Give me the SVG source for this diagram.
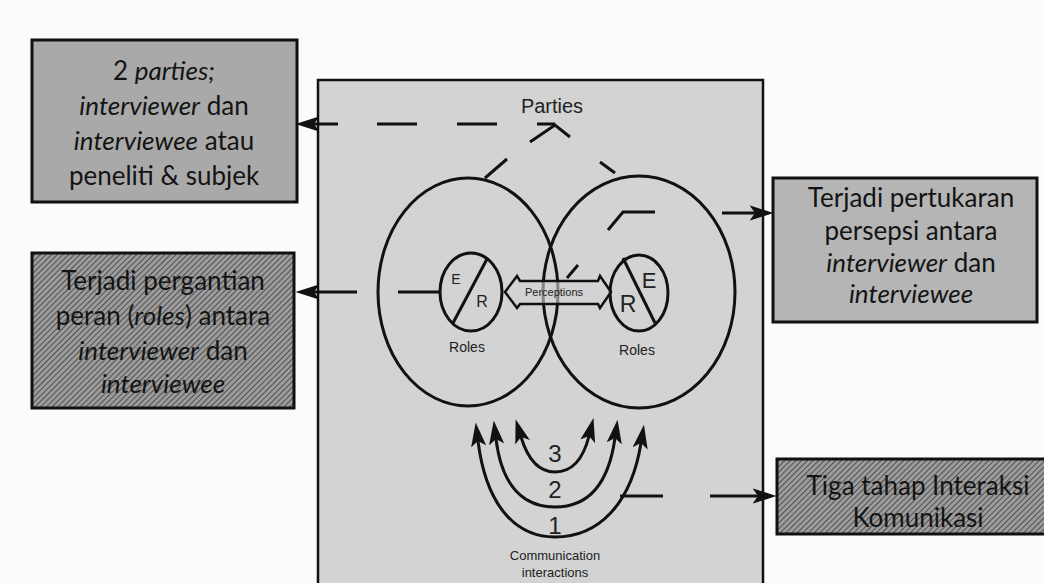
<svg xmlns="http://www.w3.org/2000/svg" width="1044" height="583" viewBox="0 0 1044 583">
<defs>
  <pattern id="hatch" width="4" height="4" patternUnits="userSpaceOnUse" patternTransform="rotate(45)">
    <rect width="4" height="4" fill="#9c9c9c"/>
    <line x1="0" y1="0" x2="0" y2="4" stroke="#505050" stroke-width="2"/>
  </pattern>
  <marker id="ah" markerUnits="userSpaceOnUse" markerWidth="24" markerHeight="16" viewBox="0 0 22 14" refX="5" refY="7" orient="auto-start-reverse">
    <path d="M0,0 L22,7 L0,14 L5,7 z" fill="#111"/>
  </marker>
  <style>
    .box { stroke:#111; stroke-width:3; }
    .lt { fill:#a9a9a9; }
    .lt2 { fill:#b5b5b5; }
    .dk { fill:url(#hatch); }
    .bt { font-family:Lato, "Liberation Sans", sans-serif; font-size:26px; fill:#141414; text-anchor:middle; }
    .it { font-style:italic; }
    .ln { fill:none; stroke:#111; stroke-width:3; stroke-linecap:butt; }
    .sl { font-family:"Liberation Sans", Arial, sans-serif; fill:#222; text-anchor:middle; }
  </style>
</defs>
<rect width="1044" height="583" fill="#fbfbfb"/>

<g id="main-panel">
  <rect x="318" y="80" width="445" height="520" fill="#d3d3d3" stroke="#111" stroke-width="2.5"/>
  <text class="sl" x="552" y="113" font-size="20">Parties</text>
  <ellipse cx="468" cy="292" rx="90" ry="114" fill="none" stroke="#111" stroke-width="3"/>
  <ellipse cx="639" cy="292" rx="96" ry="116" fill="none" stroke="#111" stroke-width="3"/>
</g>

<g id="roles-left">
  <ellipse cx="471" cy="292" rx="31" ry="39" fill="none" stroke="#111" stroke-width="3"/>
  <line x1="487" y1="259" x2="453" y2="323" stroke="#111" stroke-width="3"/>
  <text class="sl" x="456" y="284" font-size="14">E</text>
  <text class="sl" x="482" y="307" font-size="16">R</text>
  <text class="sl" x="467" y="352" font-size="14">Roles</text>
</g>

<g id="roles-right">
  <ellipse cx="639" cy="293" rx="29" ry="38" fill="none" stroke="#111" stroke-width="3"/>
  <line x1="623" y1="258" x2="655" y2="323" stroke="#111" stroke-width="3"/>
  <text class="sl" x="649" y="288" font-size="22">E</text>
  <text class="sl" x="628" y="312" font-size="23">R</text>
  <text class="sl" x="637" y="355" font-size="14">Roles</text>
</g>

<g id="perceptions">
  <path d="M505,292 L517,276 L520,281 L598,281 L600,276 L611,292 L600,308 L598,304 L520,304 L517,308 z" fill="#d3d3d3" fill-opacity="0.6" stroke="#111" stroke-width="2.5" stroke-linejoin="miter"/>
  <text class="sl" x="554" y="296" font-size="11">Perceptions</text>
</g>

<g id="interactions">
  <path class="ln" d="M478,441 C486,505 515,537 555,537 C598,537 631,505 641,443" marker-start="url(#ah)" marker-end="url(#ah)"/>
  <path class="ln" d="M496,439 C502,488 525,507 555,507 C585,507 608,488 615,438" marker-start="url(#ah)" marker-end="url(#ah)"/>
  <path class="ln" d="M521,437 C528,460 540,472 555,472 C571,472 583,460 589,436" marker-start="url(#ah)" marker-end="url(#ah)"/>
  <text class="sl" x="555" y="462" font-size="24">3</text>
  <text class="sl" x="555" y="498" font-size="24">2</text>
  <text class="sl" x="555" y="534" font-size="24">1</text>
  <text class="sl" x="555" y="560" font-size="13">Communication</text>
  <text class="sl" x="555" y="577" font-size="13">interactions</text>
</g>

<g id="box-parties">
  <rect class="box lt" x="32" y="40" width="265" height="162"/>
  <text class="bt" x="164" y="80">2 <tspan class="it">parties;</tspan></text>
  <text class="bt" x="164" y="115"><tspan class="it">interviewer</tspan> dan</text>
  <text class="bt" x="164" y="150"><tspan class="it">interviewee</tspan> atau</text>
  <text class="bt" x="164" y="185">peneliti &amp; subjek</text>
</g>

<g id="box-roles">
  <rect class="box dk" x="32" y="253" width="262" height="155"/>
  <text class="bt" x="163" y="290">Terjadi pergantian</text>
  <text class="bt" x="163" y="325">peran (<tspan class="it">roles</tspan>) antara</text>
  <text class="bt" x="163" y="360"><tspan class="it">interviewer</tspan> dan</text>
  <text class="bt it" x="163" y="393">interviewee</text>
</g>

<g id="box-perceptions">
  <rect class="box lt2" x="773" y="178" width="264" height="144"/>
  <text class="bt" x="911" y="207">Terjadi pertukaran</text>
  <text class="bt" x="911" y="240">persepsi antara</text>
  <text class="bt" x="911" y="272"><tspan class="it">interviewer</tspan> dan</text>
  <text class="bt it" x="911" y="303">interviewee</text>
</g>

<g id="box-stages">
  <rect class="box dk" x="777" y="459" width="280" height="75"/>
  <text class="bt" x="918" y="495">Tiga tahap Interaksi</text>
  <text class="bt" x="918" y="527">Komunikasi</text>
</g>

<g id="connectors">
  <path class="ln" d="M485,178 L507,159 M530,142 L555,125 L570,137 M600,162 L615,173"/>
  <path class="ln" d="M537,124 H555 M457,124 H497 M377,124 H417"/>
  <path class="ln" d="M338,124 H314" marker-end="url(#ah)"/>
  <path class="ln" d="M398,292 H440"/>
  <path class="ln" d="M357,292 H314" marker-end="url(#ah)"/>
  <path class="ln" d="M567,278 L578,265 M608,230 L623,212 H655"/>
  <path class="ln" d="M722,213 H755" marker-end="url(#ah)"/>
  <path class="ln" d="M620,496 H663"/>
  <path class="ln" d="M710,496 H758" marker-end="url(#ah)"/>
</g>
</svg>
